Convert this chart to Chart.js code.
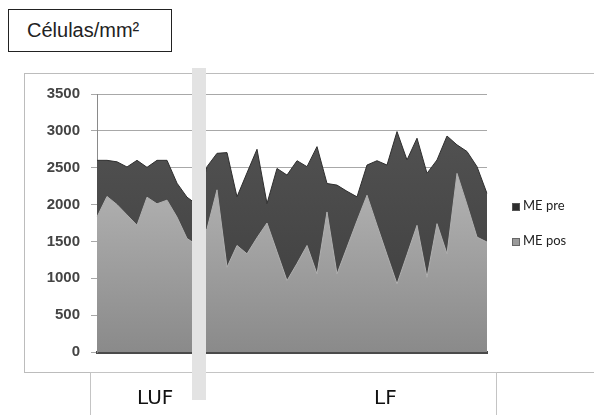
<!DOCTYPE html>
<html>
<head>
<meta charset="utf-8">
<script src="https://cdn.jsdelivr.net/npm/chart.js@4.4.0/dist/chart.umd.min.js"></script>
<style>
    body { margin: 0; background: #fff; width: 594px; height: 415px; overflow: hidden; position: relative; font-family: "Liberation Sans", Arial, sans-serif; }
    #titleBox { position: absolute; left: 8px; top: 9px; width: 164px; height: 43px; border: 1px solid #222; box-sizing: border-box; font-size: 20px; color: #222; line-height: 41px; padding-left: 18px; }
    #chartBox { position: absolute; left: 24px; top: 73px; width: 600px; height: 300px; border: 1px solid #bcbcbc; box-sizing: border-box; }
    #groupBox { position: absolute; left: 90px; top: 372px; width: 407px; height: 60px; border: 1px solid #c4c4c4; box-sizing: border-box; }
    .group { position: absolute; top: 385px; font-family: "DejaVu Sans", Verdana, sans-serif; font-size: 20px; color: #111; }
    #band { position: absolute; left: 192px; top: 68px; width: 14px; height: 332px; background: #e3e3e3; }
    canvas { position: absolute; left: 0; top: 0; }
    .leg { position: absolute; left: 512px; font-family: Lato, "Open Sans", sans-serif; font-size: 13px; color: #222; }
    .leg span { display: inline-block; width: 8px; height: 8px; margin-right: 3px; vertical-align: -1px; box-sizing: border-box; }
</style>
</head>
<body>
<div id="titleBox">Células/mm²</div>
<div id="chartBox"></div>
<div id="groupBox"></div>
<canvas id="chart" width="594" height="415"></canvas>
<div class="group" style="left:137px">LUF</div>
<div class="group" style="left:374px">LF</div>
<div id="band"></div>
<div class="leg" style="top:197px"><span style="background:#2e2e2e;border:1px solid #555"></span>ME pre</div>
<div class="leg" style="top:232px"><span style="background:#9a9a9a;border:1px solid #666"></span>ME pos</div>
<script>
// 40 samples: first 11 LUF, the rest LF
var samples = [];
for (var i = 1; i <= 40; i++) {
    samples.push('' + i);
}
var mePre = [2600, 2600, 2580, 2510, 2600, 2505, 2600, 2600, 2290, 2100,
             2000, 2514, 2695, 2705, 2105, 2430, 2750, 2014, 2490, 2400,
             2595, 2514, 2786, 2286, 2264, 2180, 2105, 2536, 2595, 2536,
             2990, 2605, 2900, 2423, 2605, 2930, 2810, 2720, 2514, 2150];
var mePos = [1832, 2110, 2000, 1860, 1720, 2100, 2010, 2060, 1830, 1540,
             1450, 1670, 2200, 1150, 1445, 1332, 1550, 1750, 1360, 968,
             1200, 1445, 1059, 1900, 1059, 1420, 1780, 2127, 1720, 1320,
             923, 1320, 1718, 1014, 1741, 1332, 2423, 2000, 1559, 1491];
var yTicks = [0, 500, 1000, 1500, 2000, 2500, 3000, 3500];

function grad(top, bottom) {
    return function (ctx) {
        var area = ctx.chart.chartArea;
        if (!area) return bottom;
        var g = ctx.chart.ctx.createLinearGradient(0, area.top, 0, area.bottom);
        g.addColorStop(0, top);
        g.addColorStop(1, bottom);
        return g;
    };
}

var ctx = document.getElementById('chart').getContext('2d');
var chart = new Chart(ctx, {
    type: 'line',
    data: {
        labels: samples,
        datasets: [{
            label: 'ME pre',
            data: mePre,
            fill: 'origin',
            order: 2,
            backgroundColor: grad('#555555', '#3c3c3c'),
            borderColor: '#2f2f2f',
            borderWidth: 1,
            pointRadius: 0,
            tension: 0
        }, {
            label: 'ME pos',
            data: mePos,
            fill: 'origin',
            order: 1,
            backgroundColor: grad('#c6c6c6', '#8a8a8a'),
            borderColor: '#b0b0b0',
            borderWidth: 1,
            pointRadius: 0,
            tension: 0
        }]
    },
    options: {
        responsive: false,
        animation: false,
        layout: { padding: { left: 27, top: 94, right: 107, bottom: 63 } },
        plugins: { legend: { display: false }, tooltip: { enabled: false } },
        scales: {
            x: {
                offset: false,
                grid: { display: false, drawTicks: false },
                ticks: { display: false },
                border: { display: true, color: '#4a4a4a', width: 3 },
                afterFit: function (s) { s.height = 0; }
            },
            y: {
                min: 0,
                max: 3500,
                afterFit: function (s) { s.width = 70; },
                afterBuildTicks: function (s) {
                    s.ticks = yTicks.map(function (v) { return { value: v }; });
                },
                grid: { color: '#a8a8a8', tickLength: 6, lineWidth: 1 },
                border: { display: true, color: '#8a8a8a' },
                ticks: {
                    padding: 11,
                    color: '#444',
                    font: { family: 'Liberation Sans', size: 15, weight: 'bold' },
                    callback: function (v) { return '' + v; }
                }
            }
        }
    }
});
</script>
</body>
</html>
